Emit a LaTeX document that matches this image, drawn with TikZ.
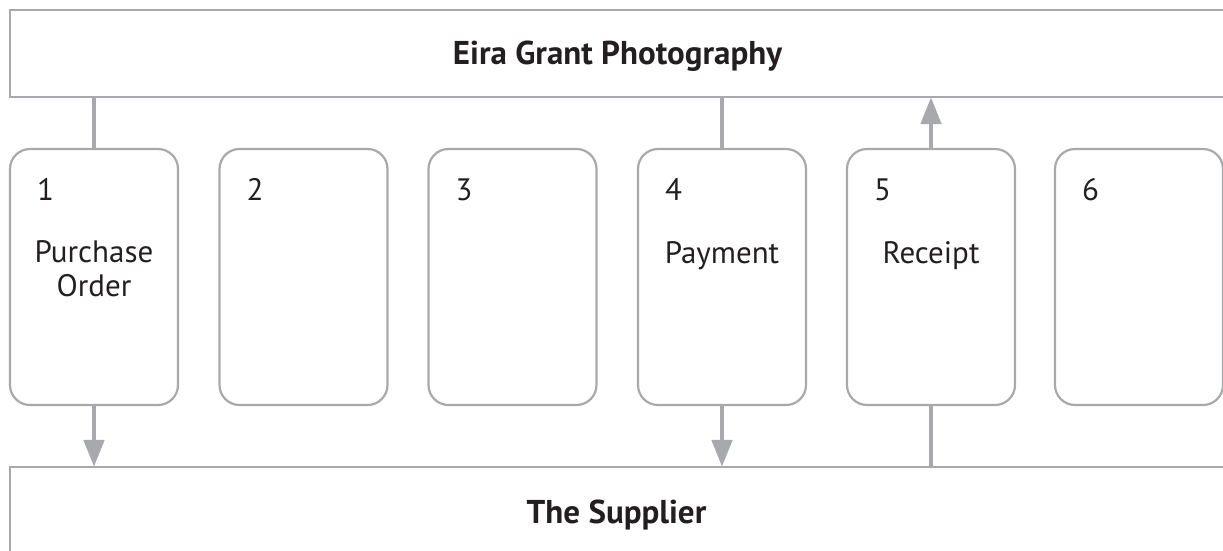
\documentclass[tikz,border=0pt]{standalone}
\usepackage{fontspec}
\setmainfont{PT Sans}
\usetikzlibrary{arrows.meta}
\definecolor{lgrey}{HTML}{A7A9AC}
\definecolor{ink}{HTML}{231F20}
\tikzset{
  band/.style={draw=lgrey, line width=2.2pt, rectangle, minimum width=1215pt, inner sep=0pt},
  card/.style={draw=lgrey, line width=2.2pt, rounded corners=20pt, minimum width=168pt, minimum height=256pt, inner sep=0pt},
  num/.style={text=ink, font=\fontsize{31pt}{34pt}\selectfont, anchor=base west, inner sep=0pt},
  lbl/.style={text=ink, font=\fontsize{31pt}{34pt}\selectfont, align=center, anchor=base, inner sep=0pt},
  title/.style={text=ink, font=\bfseries\fontsize{33pt}{36pt}\selectfont, anchor=base, inner sep=0pt},
  conn/.style={draw=lgrey, line width=4.8pt},
  flow/.style={conn, -{Triangle[width=20pt,length=27pt]}, shorten >=-1pt},
}
\begin{document}
\begin{tikzpicture}[x=1pt,y=-1pt]
\useasboundingbox (0,0) rectangle (1223,551);
\node[band, minimum height=87pt] (top) at (617.5,53.5) {};
\node[title] (toptext) at (617.5,65) {Eira Grant Photography};
\node[band, minimum height=120pt] (sup) at (617.5,527) {};
\node[title] (suptext) at (616.5,523) {The Supplier};
\foreach \i/\cx in {1/94,2/303.5,3/512.5,4/722,5/931,6/1139}{
  \node[card] (b\i) at (\cx,277) {};
  \node[num] (n\i) at (\cx-57,200) {\i};
}
\node[lbl] (l1) at (94,296) {Purchase\\Order};
\node[lbl] (l4) at (722,263) {Payment};
\node[lbl] (l5) at (931,263) {Receipt};
\draw[conn] (top.south -| b1.north) -- (b1.north);
\draw[flow] (b1.south) -- (b1.south |- sup.north);
\draw[conn] (top.south -| b4.north) -- (b4.north);
\draw[flow] (b4.south) -- (b4.south |- sup.north);
\draw[flow] (b5.north) -- (b5.north |- top.south);
\draw[conn] (sup.north -| b5.south) -- (b5.south);
\end{tikzpicture}
\end{document}
